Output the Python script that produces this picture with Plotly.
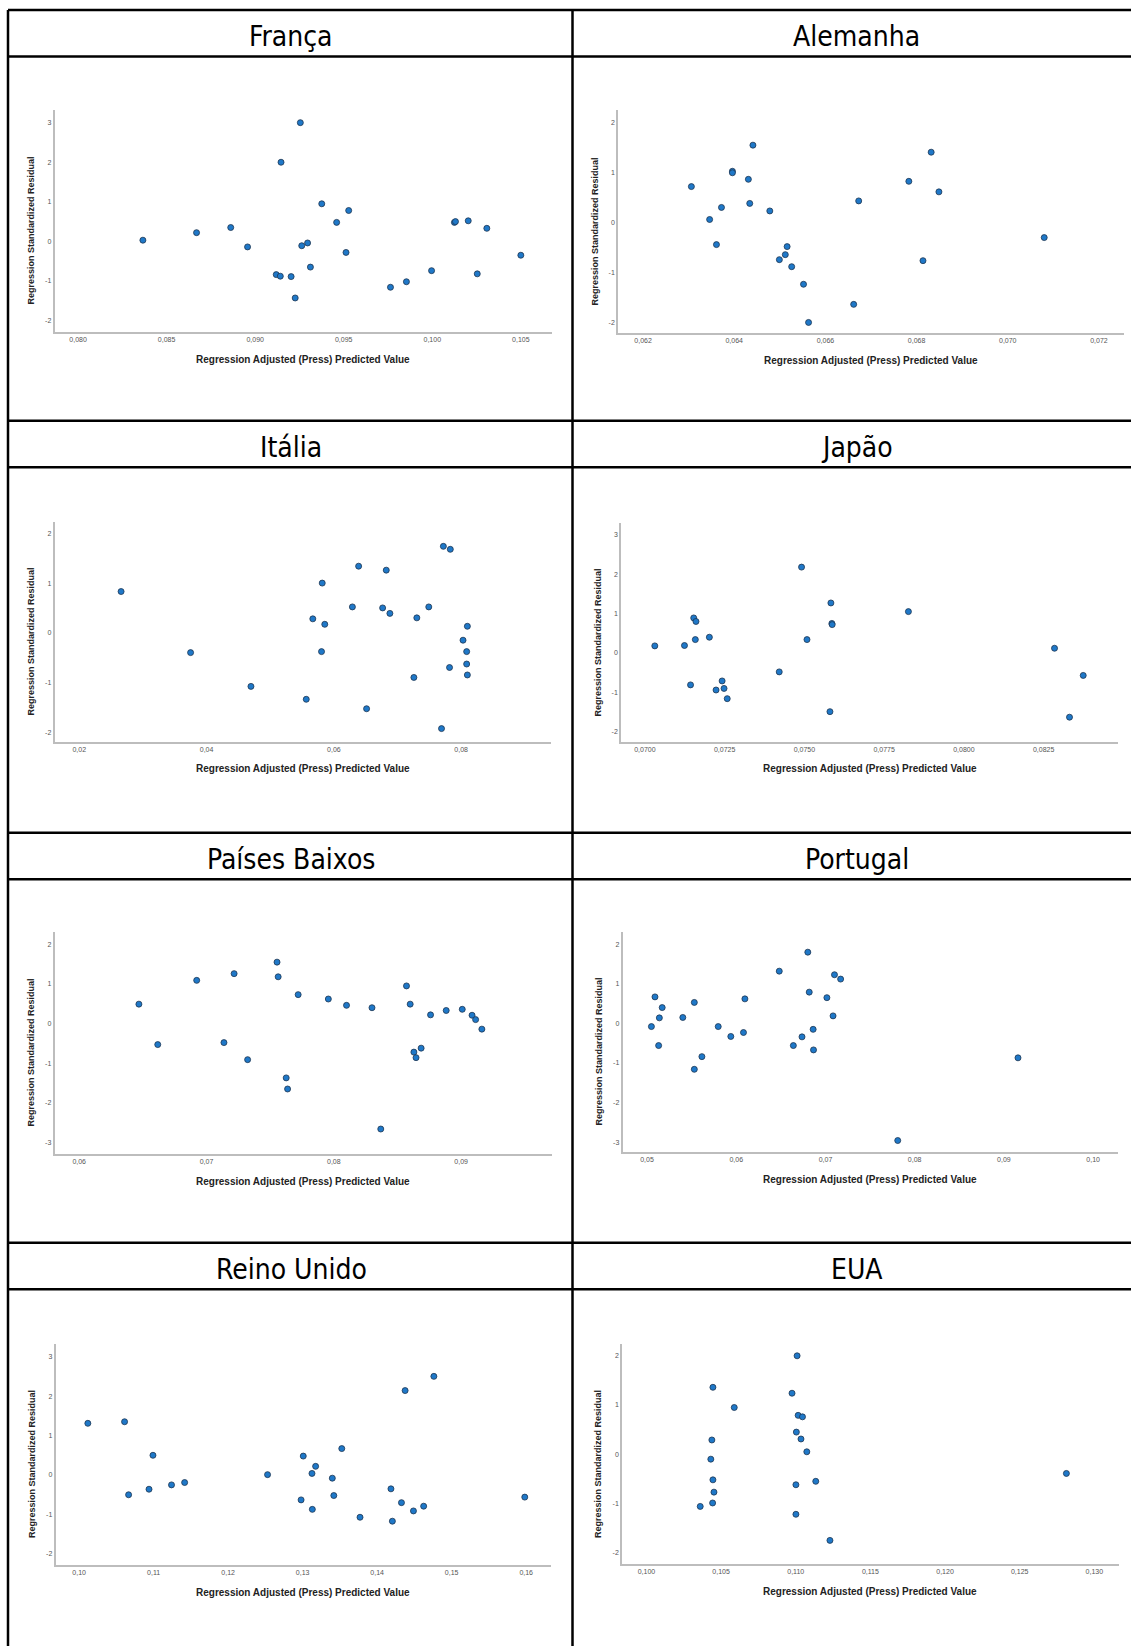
import plotly.graph_objects as go

W, H = 1131, 1646

# ---------------- data ----------------
titles = ["França", "Alemanha", "Itália", "Japão", "Países Baixos", "Portugal", "Reino Unido", "EUA"]

franca_x = [0.08366, 0.08669, 0.08862, 0.08957, 0.09119, 0.09142, 0.09146, 0.09203, 0.09226, 0.09255,
            0.09263, 0.09296, 0.09312, 0.09376, 0.0946, 0.09513, 0.09528, 0.09764, 0.09854, 0.09996,
            0.10125, 0.10131, 0.10203, 0.10254, 0.10308, 0.105]
franca_y = [0.03, 0.22, 0.35, -0.14, -0.84, -0.88, 2.0, -0.89, -1.43, 3.0,
            -0.11, -0.04, -0.65, 0.95, 0.48, -0.28, 0.78, -1.16, -1.02, -0.74,
            0.48, 0.50, 0.52, -0.82, 0.33, -0.35]

alemanha_x = [0.06306, 0.06346, 0.06361, 0.06372, 0.06396, 0.06396, 0.06431, 0.06434, 0.06441, 0.06478,
              0.06499, 0.06512, 0.06516, 0.06526, 0.06552, 0.06563, 0.06662, 0.06673, 0.06783, 0.06814,
              0.06832, 0.06849, 0.0708]
alemanha_y = [0.715, 0.06, -0.44, 0.30, 1.02, 0.99, 0.86, 0.38, 1.54, 0.23,
              -0.74, -0.64, -0.48, -0.88, -1.23, -1.99, -1.63, 0.43, 0.82, -0.76,
              1.40, 0.61, -0.30]

italia_x = [0.02657, 0.03749, 0.04697, 0.05566, 0.05669, 0.05806, 0.05817, 0.05857, 0.06291, 0.06389,
            0.06514, 0.06766, 0.06823, 0.0688, 0.07257, 0.07303, 0.07491, 0.07691, 0.0772, 0.07817,
            0.07829, 0.08029, 0.08086, 0.08086, 0.08097, 0.08097]
italia_y = [0.83, -0.40, -1.08, -1.34, 0.28, -0.38, 1.00, 0.17, 0.52, 1.34,
            -1.53, 0.50, 1.26, 0.39, -0.90, 0.30, 0.52, -1.93, 1.74, -0.70,
            1.68, -0.15, -0.38, -0.63, 0.13, -0.85]

japao_x = [0.07031, 0.07124, 0.07143, 0.07153, 0.0716, 0.07158, 0.07202, 0.07223, 0.07242, 0.07248,
           0.07258, 0.07421, 0.07491, 0.07508, 0.0758, 0.07583, 0.07586, 0.07587, 0.07826, 0.08284,
           0.08331, 0.08374]
japao_y = [0.18, 0.19, -0.81, 0.89, 0.80, 0.34, 0.40, -0.94, -0.71, -0.90,
           -1.16, -0.48, 2.18, 0.34, -1.49, 1.27, 0.75, 0.72, 1.05, 0.12,
           -1.63, -0.57]

paises_x = [0.06469, 0.06617, 0.06923, 0.07137, 0.07217, 0.07323, 0.07554, 0.07563, 0.07626, 0.07637,
            0.0772, 0.07957, 0.081, 0.083, 0.08369, 0.08571, 0.086, 0.08629, 0.08646, 0.08686,
            0.0876, 0.08883, 0.09009, 0.09086, 0.09114, 0.09163]
paises_y = [0.49, -0.53, 1.09, -0.48, 1.26, -0.91, 1.55, 1.18, -1.37, -1.65,
            0.73, 0.62, 0.46, 0.40, -2.66, 0.95, 0.49, -0.72, -0.86, -0.62,
            0.22, 0.33, 0.36, 0.21, 0.10, -0.14]

portugal_x = [0.05049, 0.05089, 0.05138, 0.0513, 0.0517, 0.05401, 0.0553, 0.0553, 0.05615, 0.05798,
              0.05939, 0.06081, 0.06097, 0.06482, 0.0664, 0.06737, 0.06802, 0.06818, 0.06862, 0.06866,
              0.07016, 0.07085, 0.07101, 0.0717, 0.0781, 0.09158]
portugal_y = [-0.08, 0.67, 0.14, -0.56, 0.40, 0.15, 0.53, -1.16, -0.84, -0.08,
              -0.33, -0.23, 0.62, 1.32, -0.56, -0.34, 1.80, 0.79, -0.15, -0.67,
              0.65, 0.19, 1.23, 1.12, -2.96, -0.87]

reino_x = [0.10117, 0.1061, 0.10664, 0.10938, 0.10991, 0.1124, 0.11416, 0.12529, 0.12979, 0.13008,
           0.13125, 0.1313, 0.13174, 0.13398, 0.13418, 0.13525, 0.1377, 0.14185, 0.14204, 0.14326,
           0.14375, 0.14487, 0.14624, 0.14761, 0.15981]
reino_y = [1.31, 1.35, -0.50, -0.36, 0.50, -0.25, -0.19, 0.01, -0.63, 0.48,
           0.04, -0.87, 0.22, -0.08, -0.52, 0.67, -1.07, -0.35, -1.17, -0.70,
           2.14, -0.91, -0.79, 2.50, -0.56]

eua_x = [0.1036, 0.10431, 0.10438, 0.10443, 0.10445, 0.10445, 0.10452, 0.10588, 0.10975, 0.11001,
         0.11001, 0.11004, 0.11009, 0.11016, 0.11035, 0.11045, 0.11074, 0.11134, 0.11229, 0.12813]
eua_y = [-1.06, -0.10, 0.29, -0.99, 1.36, -0.52, -0.77, 0.95, 1.24, -1.22,
         -0.62, 0.45, 2.0, 0.79, 0.31, 0.76, 0.05, -0.55, -1.75, -0.39]

# tick values / labels
franca_xt = [0.080, 0.085, 0.090, 0.095, 0.100, 0.105]
franca_xl = ["0,080", "0,085", "0,090", "0,095", "0,100", "0,105"]
alemanha_xt = [0.062, 0.064, 0.066, 0.068, 0.070, 0.072]
alemanha_xl = ["0,062", "0,064", "0,066", "0,068", "0,070", "0,072"]
italia_xt = [0.02, 0.04, 0.06, 0.08]
italia_xl = ["0,02", "0,04", "0,06", "0,08"]
japao_xt = [0.0700, 0.0725, 0.0750, 0.0775, 0.0800, 0.0825]
japao_xl = ["0,0700", "0,0725", "0,0750", "0,0775", "0,0800", "0,0825"]
paises_xt = [0.06, 0.07, 0.08, 0.09]
paises_xl = ["0,06", "0,07", "0,08", "0,09"]
portugal_xt = [0.05, 0.06, 0.07, 0.08, 0.09, 0.10]
portugal_xl = ["0,05", "0,06", "0,07", "0,08", "0,09", "0,10"]
reino_xt = [0.10, 0.11, 0.12, 0.13, 0.14, 0.15, 0.16]
reino_xl = ["0,10", "0,11", "0,12", "0,13", "0,14", "0,15", "0,16"]
eua_xt = [0.100, 0.105, 0.110, 0.115, 0.120, 0.125, 0.130]
eua_xl = ["0,100", "0,105", "0,110", "0,115", "0,120", "0,125", "0,130"]

yt_m2_3 = [-2, -1, 0, 1, 2, 3]
yt_m2_2 = [-2, -1, 0, 1, 2]
yt_m3_2 = [-3, -2, -1, 0, 1, 2]

x_title = "Regression Adjusted (Press) Predicted Value"
y_title = "Regression Standardized Residual"

# ---------------- layout config ----------------
panels = [
    # x, y, xticks, xlabels, yticks, box(px: left,right,top,bottom), xrange, yrange
    (franca_x, franca_y, franca_xt, franca_xl, yt_m2_3, (54.5, 552, 110, 332), (0.07867, 0.10676), (-2.29, 3.32)),
    (alemanha_x, alemanha_y, alemanha_xt, alemanha_xl, yt_m2_2, (618, 1124, 110, 333), (0.06145, 0.07255), (-2.2, 2.24)),
    (italia_x, italia_y, italia_xt, italia_xl, yt_m2_2, (54.5, 551, 522, 742), (0.01611, 0.09411), (-2.2, 2.23)),
    (japao_x, japao_y, japao_xt, japao_xl, yt_m2_3, (621, 1118, 523, 742), (0.06925, 0.08483), (-2.26, 3.30)),
    (paises_x, paises_y, paises_xt, paises_xl, yt_m3_2, (54.5, 552, 932, 1154), (0.05806, 0.09714), (-3.29, 2.31)),
    (portugal_x, portugal_y, portugal_xt, portugal_xl, yt_m3_2, (622.5, 1118, 932, 1152), (0.04725, 0.10279), (-3.25, 2.31)),
    (reino_x, reino_y, reino_xt, reino_xl, yt_m2_3, (55.5, 551, 1344, 1565), (0.09683, 0.16333), (-2.28, 3.32)),
    (eua_x, eua_y, eua_xt, eua_xl, yt_m2_2, (622, 1118.5, 1344, 1564), (0.09836, 0.13162), (-2.23, 2.24)),
]

row_tops = [10, 420.7, 832.7, 1242.7]
title_h = 46.5
col_x = [8, 572.5]
title_cx = [291, 857]

def fx(p):
    return p / W

def fy(p):
    return 1 - p / H

fig = go.Figure()
layout = dict(
    width=W, height=H, margin=dict(l=0, r=0, t=0, b=0),
    paper_bgcolor="white", plot_bgcolor="white", showlegend=False,
    font=dict(family="Liberation Sans, Arial, sans-serif"),
)
annotations = []
shapes = []

axis_color = "#bdbdbd"
tick_font = dict(family="Liberation Sans, Arial, sans-serif", size=7, color="#555555")
xlabel_font = dict(family="Liberation Sans, Arial, sans-serif", size=10, color="#222222", weight="bold")
ylabel_font = dict(family="Liberation Sans, Arial, sans-serif", size=9, color="#222222", weight="bold")

for i, (xs, ys, xt, xl, yt, box, xr, yr) in enumerate(panels):
    n = i + 1
    xa = "x" if n == 1 else f"x{n}"
    ya = "y" if n == 1 else f"y{n}"
    l, r, t, b = box
    fig.add_trace(go.Scatter(
        x=xs, y=ys, mode="markers", xaxis=xa, yaxis=ya,
        marker=dict(size=6, color="#1f78c8", line=dict(color="#1d3550", width=0.8)),
        hoverinfo="x+y",
    ))
    layout["xaxis" if n == 1 else f"xaxis{n}"] = dict(
        domain=[fx(l), fx(r)], range=list(xr), anchor=ya,
        showgrid=False, zeroline=False, showline=True, linecolor=axis_color, linewidth=1.5,
        tickmode="array", tickvals=xt, ticktext=xl, ticks="", tickfont=tick_font,
    )
    layout["yaxis" if n == 1 else f"yaxis{n}"] = dict(
        domain=[fy(b), fy(t)], range=list(yr), anchor=xa,
        showgrid=False, zeroline=False, showline=True, linecolor=axis_color, linewidth=1.5,
        tickmode="array", tickvals=yt, ticktext=[str(v) for v in yt], ticks="", tickfont=tick_font,
    )
    # axis titles
    annotations.append(dict(
        text=x_title, xref="paper", yref="paper", x=fx((l + r) / 2), y=fy(b + 27),
        xanchor="center", yanchor="middle", showarrow=False, font=xlabel_font,
    ))
    annotations.append(dict(
        text=y_title, xref="paper", yref="paper", x=fx(l - 24), y=fy((t + b) / 2 + 10),
        xanchor="center", yanchor="middle", showarrow=False, textangle=-90, font=ylabel_font,
    ))

# table titles
for i, name in enumerate(titles):
    row, col = divmod(i, 2)
    annotations.append(dict(
        text=name, xref="paper", yref="paper", x=fx(title_cx[col]), y=fy(row_tops[row] + 26.5),
        xanchor="center", yanchor="middle", showarrow=False,
        font=dict(family="Liberation Sans Narrow, Arial Narrow, DejaVu Sans Condensed, sans-serif",
                  size=28, color="black"),
    ))

# table lines
lw = 2.5
for rt in row_tops:
    for yv in (rt, rt + title_h):
        shapes.append(dict(type="line", xref="paper", yref="paper",
                           x0=fx(col_x[0]), x1=1, y0=fy(yv), y1=fy(yv),
                           line=dict(color="black", width=lw)))
for cx in col_x:
    shapes.append(dict(type="line", xref="paper", yref="paper",
                       x0=fx(cx), x1=fx(cx), y0=fy(row_tops[0]), y1=0,
                       line=dict(color="black", width=lw)))

layout["annotations"] = annotations
layout["shapes"] = shapes
fig.update_layout(**layout)

fig.write_html("out.html")
